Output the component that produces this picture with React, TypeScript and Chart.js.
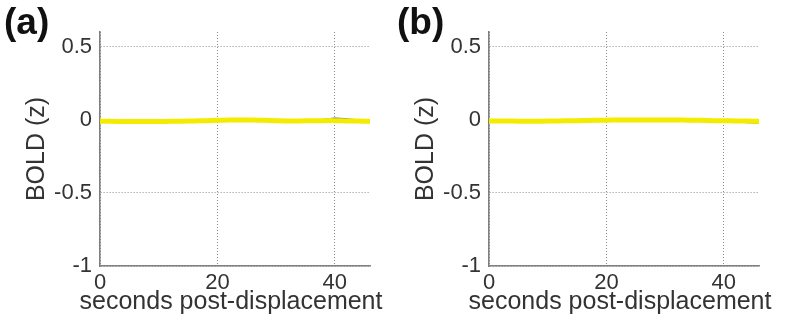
import React, { useEffect, useRef } from "react";
import { Chart, registerables } from "chart.js";

Chart.register(...registerables);

const timeSec = [0, 2, 4, 6, 8, 10, 12, 14, 16, 18, 20, 22, 24, 26, 28, 30, 32, 34, 36, 38, 40, 42, 44, 46];

const aBlue = [-0.01, -0.011, -0.012, -0.012, -0.012, -0.012, -0.011, -0.01, -0.008, -0.006, -0.004, -0.002, -0.002, -0.003, -0.005, -0.007, -0.009, -0.009, -0.007, -0.001, 0.008, 0.004, -0.003, -0.006];
const aGreen = [-0.014, -0.015, -0.016, -0.015, -0.014, -0.013, -0.012, -0.011, -0.009, -0.007, -0.005, -0.003, -0.002, -0.004, -0.006, -0.008, -0.01, -0.012, -0.012, -0.01, -0.008, -0.009, -0.01, -0.011];
const aYellow = [-0.01, -0.011, -0.012, -0.012, -0.012, -0.012, -0.011, -0.01, -0.008, -0.006, -0.004, -0.002, -0.001, -0.002, -0.004, -0.006, -0.008, -0.008, -0.007, -0.006, -0.006, -0.008, -0.009, -0.01];

const bBlue = [-0.008, -0.008, -0.008, -0.01, -0.01, -0.009, -0.008, -0.007, -0.005, -0.004, -0.002, -0.002, -0.002, -0.002, -0.002, -0.002, -0.002, -0.003, -0.004, -0.006, -0.008, -0.012, -0.017, -0.019];
const bGreen = [-0.01, -0.011, -0.012, -0.012, -0.012, -0.011, -0.01, -0.008, -0.006, -0.005, -0.005, -0.004, -0.003, -0.003, -0.003, -0.003, -0.003, -0.004, -0.006, -0.008, -0.009, -0.01, -0.011, -0.012];
const bYellow = [-0.008, -0.008, -0.009, -0.01, -0.01, -0.009, -0.008, -0.007, -0.005, -0.004, -0.003, -0.002, -0.002, -0.002, -0.002, -0.002, -0.002, -0.003, -0.004, -0.006, -0.007, -0.008, -0.009, -0.01];

const xTicks = [0, 20, 40];
const yTicks = [-1, -0.5, 0, 0.5];
const xMin = 0;
const xMax = 46;
const yMin = -1;
const yMax = 0.6;

const xTitle = "seconds post-displacement";
const yTitle = "BOLD (z)";

const FONT = "'Liberation Sans', Arial, Helvetica, sans-serif";

type PanelProps = {
  label: string;
  blue: number[];
  green: number[];
  yellow: number[];
  padLeft: number;
  yAxisWidth: number;
  padRight: number;
};

function toPoints(vals: number[]) {
  return timeSec.map((t, i) => ({ x: t, y: vals[i] }));
}

function Panel({ label, blue, green, yellow, padLeft, yAxisWidth, padRight }: PanelProps) {
  const ref = useRef<HTMLCanvasElement | null>(null);
  useEffect(() => {
    if (!ref.current) return;
    const textPlugin = {
      id: "panelText",
      afterDraw(chart: any) {
        const ctx = chart.ctx;
        const area = chart.chartArea;
        ctx.save();
        ctx.font = `bold 37px ${FONT}`;
        ctx.fillStyle = "#111";
        ctx.textBaseline = "top";
        ctx.textAlign = "left";
        ctx.fillText(label, 4, 5);
        ctx.font = `25px ${FONT}`;
        ctx.fillStyle = "#333";
        ctx.textAlign = "center";
        ctx.textBaseline = "middle";
        ctx.fillText(xTitle, (area.left + area.right) / 2 - 4, 302);
        ctx.restore();
      },
    };
    const chart = new Chart(ref.current, {
      type: "line",
      data: {
        datasets: [
          { data: toPoints(yellow), borderColor: "#f3eb00", borderWidth: 5, pointRadius: 0, tension: 0.3 },
          { data: toPoints(green), borderColor: "#8cc4a0", borderWidth: 2, pointRadius: 0, tension: 0.3 },
          { data: toPoints(blue), borderColor: "#5b6f8a", borderWidth: 2, pointRadius: 0, tension: 0.3 },
        ],
      },
      options: {
        responsive: false,
        animation: false,
        layout: { padding: { left: padLeft, right: padRight, top: 32, bottom: 12 } },
        plugins: { legend: { display: false }, tooltip: { enabled: false } },
        scales: {
          x: {
            type: "linear",
            min: xMin,
            max: xMax,
            afterBuildTicks: (s: any) => {
              s.ticks = xTicks.map((v) => ({ value: v }));
            },
            afterFit: (s: any) => {
              s.height = 51;
            },
            grid: { color: "#8c8c8c", lineWidth: 1, drawTicks: false },
            border: { display: true, color: "#808080", width: 1.6, dash: [1, 2] },
            ticks: { color: "#333", font: { family: FONT, size: 22 }, padding: 4, maxRotation: 0, callback: (v: any) => String(v) },
          },
          y: {
            type: "linear",
            min: yMin,
            max: yMax,
            afterBuildTicks: (s: any) => {
              s.ticks = yTicks.map((v) => ({ value: v }));
            },
            afterFit: (s: any) => {
              s.width = yAxisWidth;
            },
            grid: { color: "#8c8c8c", lineWidth: 1, drawTicks: false },
            border: { display: true, color: "#808080", width: 1.6, dash: [1, 2] },
            ticks: { color: "#333", font: { family: FONT, size: 22 }, padding: 8, callback: (v: any) => String(v) },
            title: { display: true, text: yTitle, color: "#333", font: { family: FONT, size: 25 }, padding: 0 },
          },
        },
      },
      plugins: [textPlugin],
    } as any);
    return () => chart.destroy();
  }, []);
  return <canvas ref={ref} width={393} height={329} style={{ display: "block", width: 393, height: 329 }} />;
}

export default function App() {
  return (
    <div style={{ position: "absolute", left: 0, top: 0, width: 786, height: 329, display: "flex", background: "#fff" }}>
      <Panel label="(a)" blue={aBlue} green={aGreen} yellow={aYellow} padLeft={22} yAxisWidth={78} padRight={23} />
      <Panel label="(b)" blue={bBlue} green={bGreen} yellow={bYellow} padLeft={18} yAxisWidth={78} padRight={27} />
    </div>
  );
}
